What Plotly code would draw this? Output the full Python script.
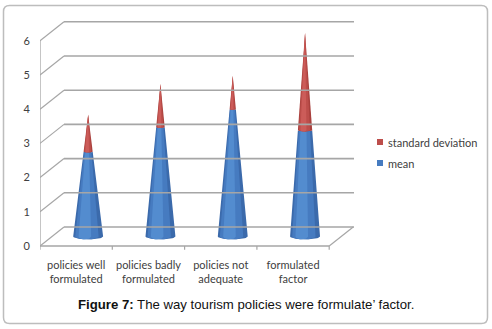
import math
import plotly.graph_objects as go

# ---------------- data ----------------
categories = ["policies well<br>formulated", "policies badly<br>formulated",
              "policies not<br>adequate", "formulated<br>factor"]
mean_values = [2.48, 3.2, 3.72, 3.11]
sd_values = [1.08, 1.26, 0.98, 2.84]
y_ticks = [0, 1, 2, 3, 4, 5, 6]
series_names = ["standard deviation", "mean"]

# ---------------- geometry / style ----------------
DX = 0.332      # depth offset in x (category units)
DY = 0.556      # depth offset in y (value units)
CONE_R = 0.207  # base half width
ELL_B = 0.085   # ellipse half height
GRID = "#a6a6a6"
TXT = "#404040"
BLUE = ["#3b6aab", "#467bc0", "#538ccf"]
RED = ["#a9403d", "#bd4e4b", "#cc5c59"]

X0, X1 = -0.5, 3.843
Y0, Y1 = -0.117, 6.608
L, R, T, B = 40, 138, 20, 79
W, H = 492, 329
PW, PH = W - L - R, H - T - B


def px_to_paper(px, py):
    return (px - L) / PW, (H - B - py) / PH


def segment(cx, y0, total, v_lo, v_hi, scale, shift, n=24):
    def half(v):
        return CONE_R * (1 - v / total)
    xs, ys = [], []
    w_lo, w_hi = half(v_lo), half(v_hi)
    for k in range(n + 1):
        t = math.pi + math.pi * k / n
        xs.append(cx + w_lo * (shift + scale * math.cos(t)))
        ys.append(y0 + v_lo + ELL_B * (w_lo / CONE_R) * math.sin(t))
    if w_hi > 1e-9:
        for k in range(n, -1, -1):
            t = math.pi + math.pi * k / n
            xs.append(cx + w_hi * (shift + scale * math.cos(t)))
            ys.append(y0 + v_hi + ELL_B * (w_hi / CONE_R) * math.sin(t))
    else:
        xs.append(cx)
        ys.append(y0 + v_hi)
    xs.append(xs[0])
    ys.append(ys[0])
    return xs, ys


fig = go.Figure()
layers = [(1.0, 0.0), (0.78, -0.08), (0.42, -0.22)]
for i, (m, s) in enumerate(zip(mean_values, sd_values)):
    total = m + s
    cx = i + DX / 2
    y0 = DY / 2
    for (lo, hi, cols) in [(0, m, BLUE), (m, total, RED)]:
        for (sc, sh), col in zip(layers, cols):
            xs, ys = segment(cx, y0, total, lo, hi, sc, sh)
            fig.add_trace(go.Scatter(x=xs, y=ys, fill="toself", fillcolor=col,
                                     mode="lines", line=dict(width=0),
                                     hoverinfo="skip", showlegend=False))

shapes = []
for v in y_ticks:
    shapes.append(dict(type="line", x0=X0 + DX, x1=X1, y0=v + DY, y1=v + DY,
                       line=dict(color=GRID, width=1.6)))
    shapes.append(dict(type="line", x0=X0, x1=X0 + DX, y0=v, y1=v + DY,
                       line=dict(color=GRID, width=1.2)))
    shapes.append(dict(type="line", x0=X0 - 0.05, x1=X0, y0=v, y1=v,
                       line=dict(color=GRID, width=1.2)))
shapes.append(dict(type="line", x0=X0, x1=X0, y0=0, y1=y_ticks[-1],
                   line=dict(color=GRID, width=1.3)))
n_cat = len(categories)
shapes.append(dict(type="line", x0=X0, x1=n_cat - 0.5, y0=0, y1=0,
                   line=dict(color=GRID, width=1.3)))
shapes.append(dict(type="line", x0=n_cat - 0.5, x1=n_cat - 0.5 + DX, y0=0, y1=DY,
                   line=dict(color=GRID, width=1.2)))
for k in range(n_cat + 1):
    xb = k - 0.5
    shapes.append(dict(type="line", x0=xb, x1=xb, y0=0, y1=-0.11,
                       line=dict(color=GRID, width=1.2)))

legend_cols = [RED[1], BLUE[1]]
legend_y = [142, 163]
annotations = []
for name, col, py in zip(series_names, legend_cols, legend_y):
    ax0, ay0 = px_to_paper(377, py + 3)
    ax1, ay1 = px_to_paper(383, py - 3)
    shapes.append(dict(type="rect", xref="paper", yref="paper", x0=ax0, x1=ax1,
                       y0=ay0, y1=ay1, fillcolor=col, line=dict(width=0)))
    tx, ty = px_to_paper(386, py)
    annotations.append(dict(xref="paper", yref="paper", x=tx, y=ty, text=name,
                            showarrow=False, xanchor="left", yanchor="middle",
                            font=dict(family="Lato", size=11, color=TXT)))

bx0, by0, bx1, by1, rr = 3.5, 5.5, 487.5, 323.5, 6


def P(px, py):
    a, b = px_to_paper(px, py)
    return f"{a:.5f},{b:.5f}"


path = (f"M {P(bx0 + rr, by0)} L {P(bx1 - rr, by0)} Q {P(bx1, by0)} {P(bx1, by0 + rr)} "
        f"L {P(bx1, by1 - rr)} Q {P(bx1, by1)} {P(bx1 - rr, by1)} "
        f"L {P(bx0 + rr, by1)} Q {P(bx0, by1)} {P(bx0, by1 - rr)} "
        f"L {P(bx0, by0 + rr)} Q {P(bx0, by0)} {P(bx0 + rr, by0)} Z")
shapes.append(dict(type="path", xref="paper", yref="paper", path=path,
                   line=dict(color="#bdbdbd", width=1.5)))

cx_, cy_ = px_to_paper(246, 304)
annotations.append(dict(xref="paper", yref="paper", x=cx_, y=cy_,
                        text="<b>Figure 7:</b> The way tourism policies were formulate\u2019 factor.",
                        showarrow=False, xanchor="center", yanchor="middle",
                        font=dict(family="Liberation Sans", size=13.2, color="#111111")))

fig.update_layout(
    width=W, height=H, margin=dict(l=L, r=R, t=T, b=B, pad=0),
    paper_bgcolor="white", plot_bgcolor="white",
    showlegend=False, shapes=shapes, annotations=annotations,
    xaxis=dict(range=[X0, X1], showgrid=False, zeroline=False, showline=False,
               tickvals=list(range(n_cat)), ticktext=categories, ticks="",
               tickfont=dict(family="Lato", size=11, color=TXT),
               ticklabelstandoff=7, fixedrange=True),
    yaxis=dict(range=[Y0, Y1], showgrid=False, zeroline=False, showline=False,
               tickvals=y_ticks, ticks="", tickfont=dict(family="Lato", size=11, color=TXT),
               ticklabelstandoff=9, fixedrange=True),
)

fig.write_html("out.html", config={"displayModeBar": False},
               post_script="document.body.style.margin='0';document.body.style.overflow='hidden';")
